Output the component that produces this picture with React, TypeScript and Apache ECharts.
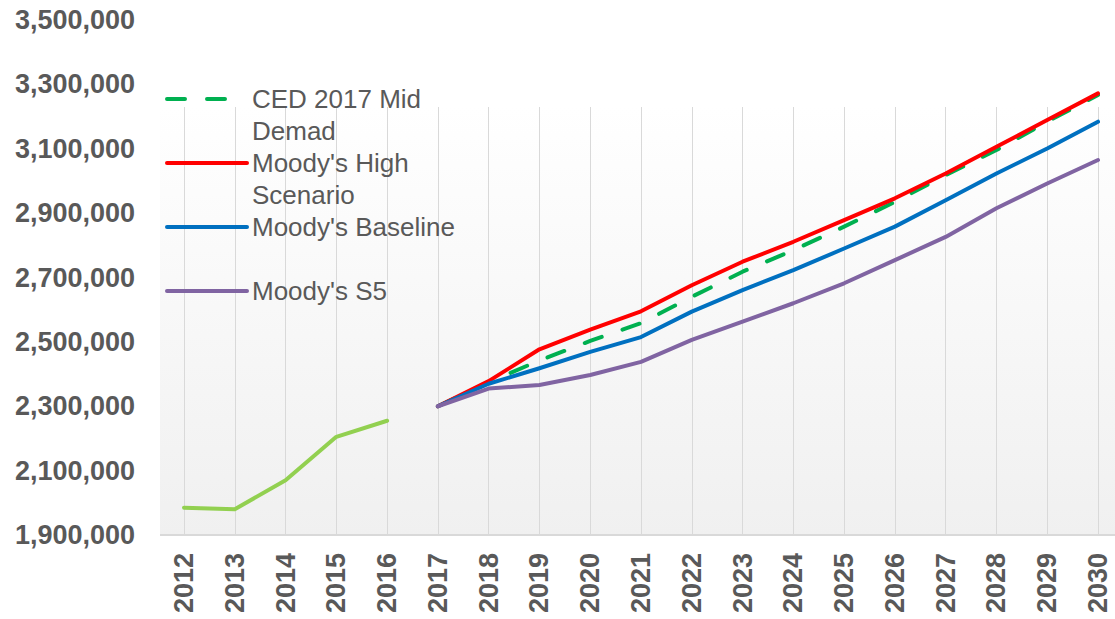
import React, { useEffect, useRef } from "react";
import * as echarts from "echarts";

const years = ["2012","2013","2014","2015","2016","2017","2018","2019","2020","2021","2022","2023","2024","2025","2026","2027","2028","2029","2030"];

const historical = [1985000, 1980000, 2070000, 2205000, 2255000, null, null, null, null, null, null, null, null, null, null, null, null, null, null];
const cedMid = [null, null, null, null, null, 2300000, 2375000, 2442000, 2503000, 2558000, 2640000, 2718000, 2785000, 2858000, 2935000, 3018000, 3096000, 3184000, 3267000];
const moodysHigh = [null, null, null, null, null, 2300000, 2378000, 2477000, 2538000, 2595000, 2676000, 2749000, 2811000, 2878000, 2946000, 3023000, 3106000, 3189000, 3272000];
const moodysBaseline = [null, null, null, null, null, 2300000, 2370000, 2418000, 2469000, 2515000, 2594000, 2661000, 2723000, 2790000, 2858000, 2940000, 3023000, 3101000, 3184000];
const moodysS5 = [null, null, null, null, null, 2300000, 2355000, 2366000, 2397000, 2438000, 2506000, 2563000, 2620000, 2682000, 2754000, 2826000, 2915000, 2992000, 3065000];

const seriesNames = ["CED 2017 Mid Demad", "Moody's High Scenario", "Moody's Baseline", "Moody's S5"];
const legendLabels: Record<string, string> = {
  "CED 2017 Mid Demad": " \nCED 2017 Mid\nDemad",
  "Moody's High Scenario": " \nMoody's High\nScenario",
  "Moody's Baseline": " \nMoody's Baseline\n ",
  "Moody's S5": " \nMoody's S5\n ",
};

const yMin = 1900000;
const yMax = 3500000;
const yStep = 100000;
const yLabelStep = 200000;

const FONT = "'Liberation Sans', Arial, sans-serif";
const GRAY = "#595959";

export default function App() {
  const ref = useRef<HTMLDivElement>(null);
  useEffect(() => {
    if (!ref.current) return;
    const chart = echarts.init(ref.current, null, { renderer: "svg" });
    const lineSeries = (name: string, data: (number | null)[], color: string, dashed = false) => ({
      name,
      type: "line",
      data,
      xAxisIndex: 0,
      yAxisIndex: 0,
      showSymbol: false,
      symbol: "circle",
      connectNulls: false,
      lineStyle: { color, width: 4, type: dashed ? [18, 22] : "solid", cap: "round", join: "round" },
      itemStyle: { color },
    });
    chart.setOption({
      animation: false,
      textStyle: { fontFamily: FONT },
      graphic: [
        {
          type: "rect",
          z: -100,
          silent: true,
          shape: { x: 160, y: 107, width: 955, height: 428 },
          style: {
            fill: new echarts.graphic.LinearGradient(0, 0, 0, 1, [
              { offset: 0, color: "#ffffff" },
              { offset: 1, color: "#f0f0f0" },
            ]),
          },
        },
        {
          type: "line",
          z: -50,
          silent: true,
          shape: { x1: 160, y1: 535, x2: 1115, y2: 535 },
          style: { stroke: "#d9d9d9", lineWidth: 2 },
        },
      ],
      legend: {
        data: seriesNames,
        orient: "vertical",
        left: 165,
        top: 51,
        padding: 0,
        itemGap: -32,
        itemWidth: 80,
        itemHeight: 14,
        itemStyle: { opacity: 0 },
        lineStyle: { width: 4, cap: "round" },
        formatter: (n: string) => legendLabels[n] ?? n,
        textStyle: {
          color: GRAY,
          fontSize: 26,
          lineHeight: 32,
          fontFamily: FONT,
        },
        selectedMode: false,
      },
      grid: [
        { left: 184, right: 17, top: 20, bottom: 84 },
        { left: 184, right: 17, top: 107, bottom: 84 },
      ],
      xAxis: [
        {
          type: "category",
          gridIndex: 0,
          data: years,
          boundaryGap: false,
          axisLine: { show: true, lineStyle: { color: "#d9d9d9", width: 2 } },
          axisTick: { show: false },
          splitLine: { show: false },
          axisLabel: {
            interval: 0,
            rotate: 90,
            margin: 18,
            color: GRAY,
            fontSize: 27,
            fontWeight: "bold",
            fontFamily: FONT,
          },
        },
        {
          type: "category",
          gridIndex: 1,
          data: years,
          boundaryGap: false,
          axisLine: { show: false },
          axisTick: { show: false },
          axisLabel: { show: false },
          splitLine: { show: true, lineStyle: { color: "#d9d9d9", width: 1 } },
        },
      ],
      yAxis: [
        {
          type: "value",
          gridIndex: 0,
          min: yMin,
          max: yMax,
          interval: yStep,
          axisLine: { show: false },
          axisTick: { show: false },
          splitLine: { show: false },
          axisLabel: {
            margin: 49,
            color: GRAY,
            fontSize: 27,
            fontWeight: "bold",
            fontFamily: FONT,
            formatter: (v: number) =>
              Math.round(v - yMin) % yLabelStep === 0 ? v.toLocaleString("en-US") : "",
          },
        },
        {
          type: "value",
          gridIndex: 1,
          min: 0,
          max: 1,
          show: false,
          splitLine: { show: false },
        },
      ],
      series: [
        lineSeries("Historical", historical, "#92d050"),
        lineSeries(seriesNames[0], cedMid, "#00b050", true),
        lineSeries(seriesNames[1], moodysHigh, "#ff0000"),
        lineSeries(seriesNames[2], moodysBaseline, "#0070c0"),
        lineSeries(seriesNames[3], moodysS5, "#8064a2"),
      ],
    });
    return () => chart.dispose();
  }, []);
  return (
    <div
      ref={ref}
      style={{ position: "fixed", left: 0, top: 0, width: 1115, height: 619, background: "#ffffff" }}
    />
  );
}
